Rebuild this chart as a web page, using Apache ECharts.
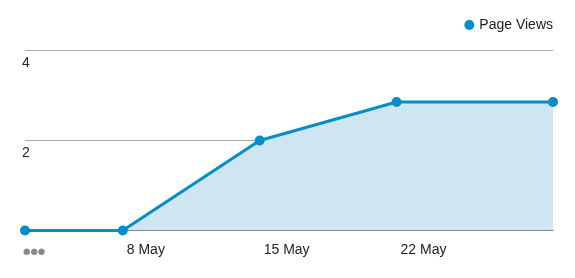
<!DOCTYPE html>
<html>
<head>
<meta charset="utf-8">
<script src="https://cdn.jsdelivr.net/npm/echarts@6/dist/echarts.min.js"></script>
<style>
html,body{margin:0;padding:0;background:#fff;}
#c{width:575px;height:278px;}
</style>
</head>
<body>
<div id="c"></div>
<script>
// Data (day of May, page views)
var seriesName = 'Page Views';
var dayOfMay = [3, 8, 15, 22, 30];
var pageViews = [0, 0, 2, 2.857, 2.857];
var xLabelDays = [3, 8, 15, 22];
var monthName = 'May';
var yTicks = [0, 2, 4];

var chart = echarts.init(document.getElementById('c'), null, {renderer: 'canvas'});
var font = 'Liberation Sans, Arial, sans-serif';
var blue = '#058dc7';

chart.setOption({
  animation: false,
  textStyle: {fontFamily: font},
  legend: {
    right: 17, top: 13,
    icon: 'circle', itemWidth: 10, itemHeight: 10, itemGap: 10,
    textStyle: {fontSize: 14, color: '#222', fontFamily: font},
    data: [seriesName]
  },
  grid: {left: 25, right: 22, top: 50.5, bottom: 47.5, containLabel: false},
  xAxis: {
    type: 'value',
    min: dayOfMay[0],
    max: dayOfMay[dayOfMay.length - 1],
    axisLine: {show: true, lineStyle: {color: '#333', width: 1}},
    axisTick: {show: false},
    splitLine: {show: false},
    axisLabel: {
      customValues: xLabelDays,
      showMinLabel: true,
      align: 'left',
      margin: 13,
      fontSize: 14,
      color: '#222',
      fontFamily: font,
      formatter: function (v) {
        if (v === xLabelDays[0]) return '{d|●●●}';
        return '{t|' + v + ' ' + monthName + '}';
      },
      rich: {
        d: {color: '#888', fontSize: 8.5, padding: [4, 0, 0, -2], fontFamily: 'DejaVu Sans'},
        t: {color: '#222', fontSize: 14, padding: [0, 0, 0, 4], fontFamily: font}
      }
    }
  },
  yAxis: {
    type: 'value',
    min: yTicks[0], max: yTicks[yTicks.length - 1], interval: 2,
    axisLine: {show: false},
    axisTick: {show: false},
    splitLine: {show: true, lineStyle: {color: '#aaa', width: 1}},
    axisLabel: {
      inside: true,
      showMinLabel: false,
      align: 'left',
      verticalAlign: 'top',
      margin: -3,
      padding: [6, 0, 0, 0],
      fontSize: 14,
      color: '#222',
      fontFamily: font
    }
  },
  series: [{
    name: seriesName,
    type: 'line',
    clip: false,
    data: dayOfMay.map(function (d, i) { return [d, pageViews[i]]; }),
    symbol: 'circle',
    symbolSize: 10,
    showAllSymbol: true,
    lineStyle: {color: blue, width: 3},
    itemStyle: {color: blue},
    areaStyle: {color: '#cde6f2', opacity: 1}
  }]
});
</script>
</body>
</html>
